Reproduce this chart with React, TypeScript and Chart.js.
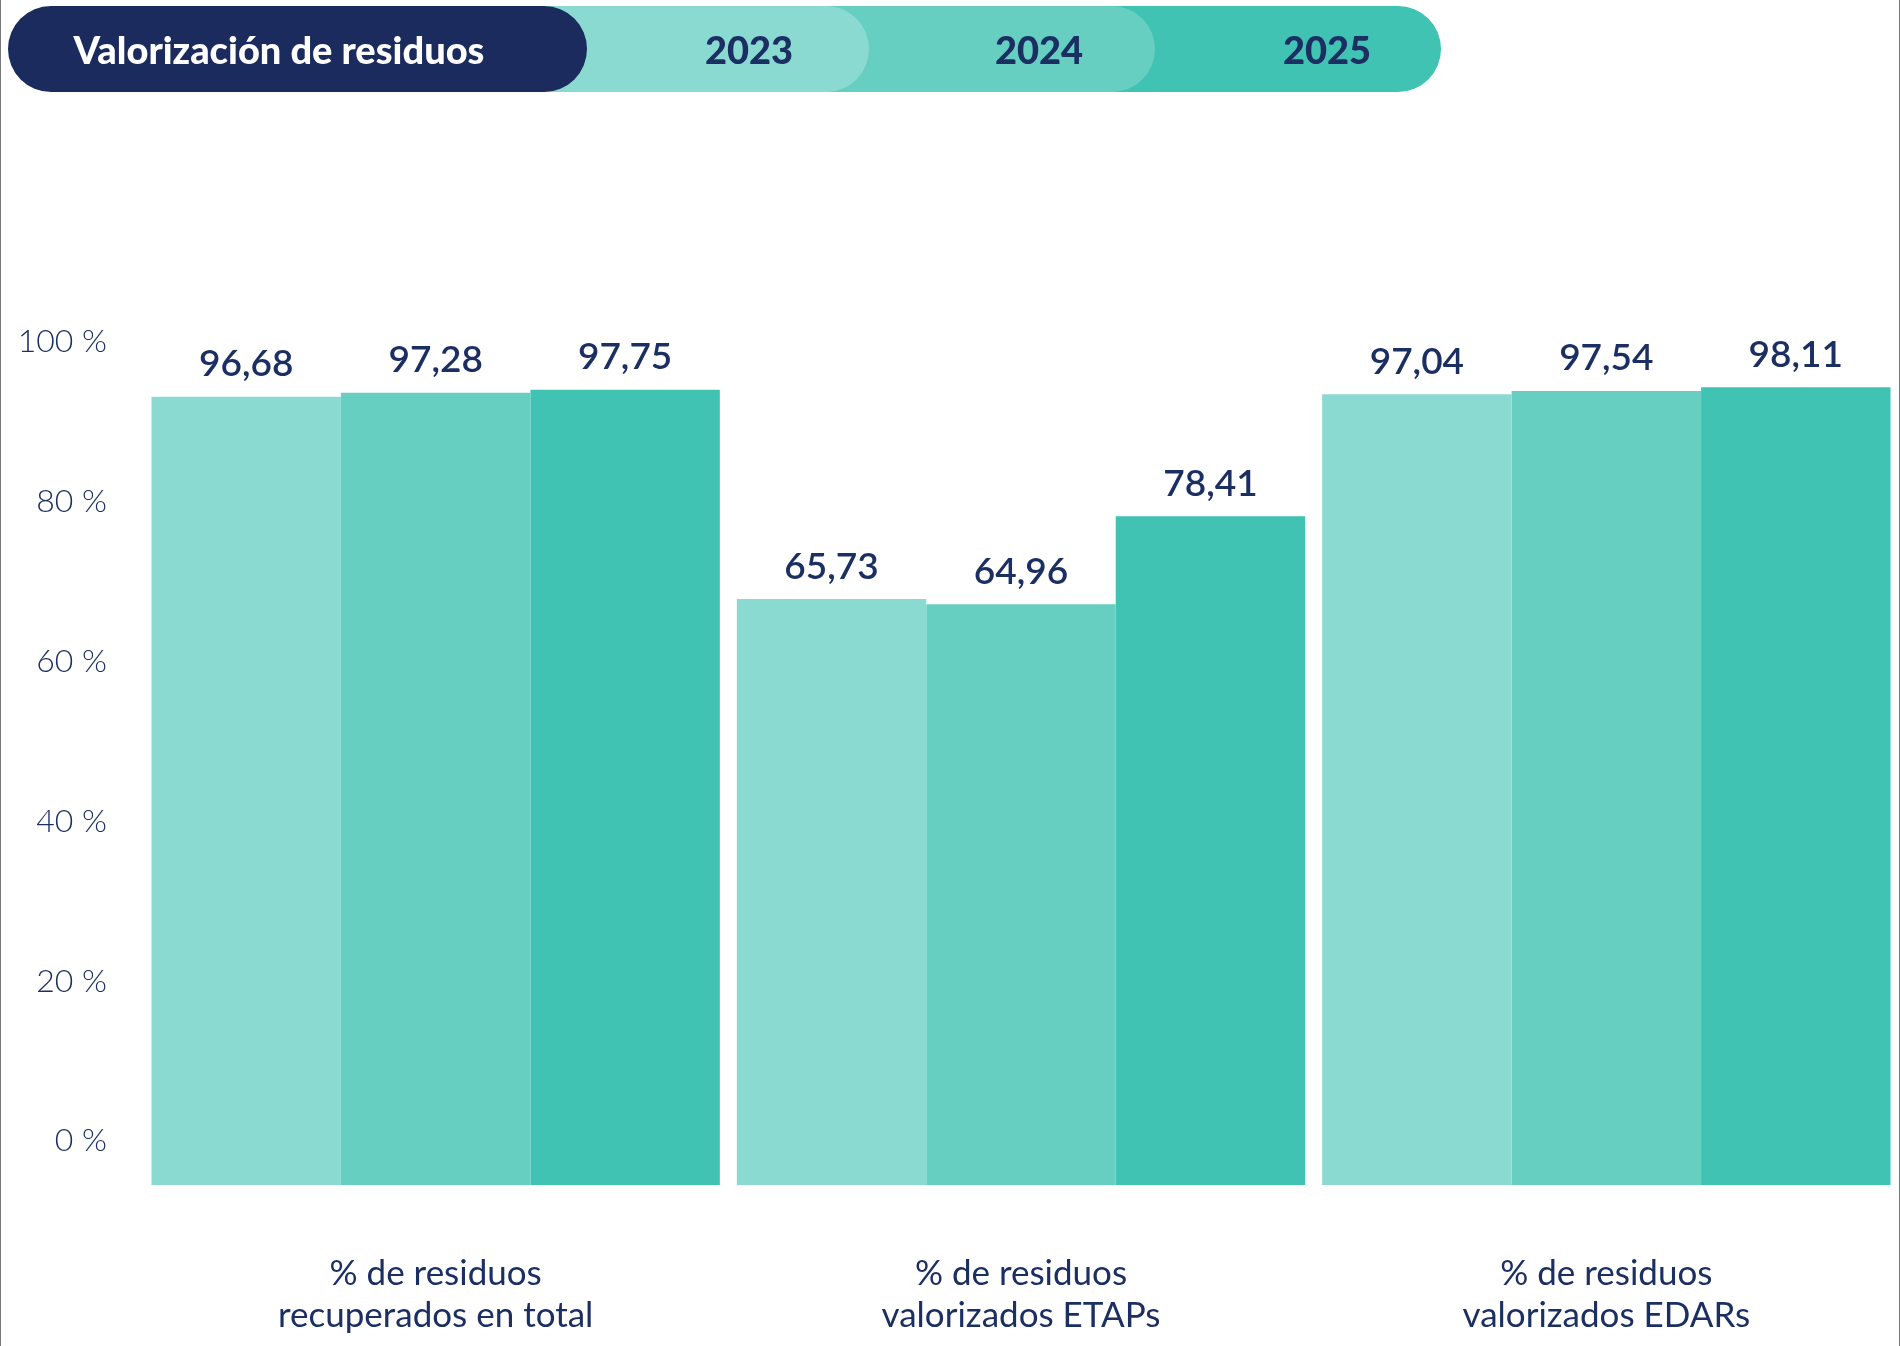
import React, { useEffect, useRef } from "react";
import { Chart, registerables } from "chart.js";
Chart.register(...registerables);

const categories = [["% de residuos", "recuperados en total"], ["% de residuos", "valorizados ETAPs"], ["% de residuos", "valorizados EDARs"]];
const years = ["2023", "2024", "2025"];
const v2023 = [96.68, 65.73, 97.04];
const v2024 = [97.28, 64.96, 97.54];
const v2025 = [97.75, 78.41, 98.11];
const colors = ["#8bdad1", "#66cfc2", "#41c3b4"];
const tickValues = [0, 20, 40, 60, 80, 100];
const NAVY = "#1b2f63";
const FONT = "Lato, 'Open Sans', sans-serif";
const BAR_MIN = -23.85;

export default function App() {
  const ref = useRef<HTMLCanvasElement>(null);
  useEffect(() => {
    document.body.style.margin = "0";
    const labelsPlugin = {
      id: "vals",
      afterDatasetsDraw(chart: any) {
        const ctx = chart.ctx;
        ctx.save();
        ctx.fillStyle = NAVY;
        ctx.font = `600 37px ${FONT}`;
        ctx.textAlign = "center";
        ctx.textBaseline = "bottom";
        chart.data.datasets.forEach((ds: any, i: number) => {
          chart.getDatasetMeta(i).data.forEach((bar: any, j: number) => {
            ctx.fillText(ds.data[j].toFixed(2).replace(".", ","), bar.x, bar.y - 14);
          });
        });
        ctx.restore();
      },
    };
    const chart = new Chart(ref.current!, {
      type: "bar",
      data: {
        labels: categories,
        datasets: years.map((y, i) => ({
          label: y,
          data: [v2023, v2024, v2025][i],
          backgroundColor: colors[i],
          yAxisID: "y",
          base: BAR_MIN,
          barPercentage: 1,
          categoryPercentage: 0.971,
        })),
      },
      options: {
        animation: false,
        responsive: false,
        layout: { padding: { top: 182, right: 0, bottom: 0, left: 0 } },
        plugins: { legend: { display: false }, tooltip: { enabled: false } },
        scales: {
          x: {
            grid: { display: false },
            border: { display: false },
            ticks: { color: NAVY, font: { size: 35, family: FONT }, padding: 60 },
            afterFit: (a: any) => { a.height = 161; },
          },
          y: { display: false, min: BAR_MIN, max: 129.5 },
          y2: {
            position: "left",
            min: -5.5,
            max: 120,
            grid: { display: false },
            border: { display: false },
            afterBuildTicks: (a: any) => { a.ticks = tickValues.map((v) => ({ value: v })); },
            afterFit: (a: any) => { a.width = 142; },
            ticks: {
              color: NAVY,
              padding: 28,
              font: { size: 32, family: FONT, weight: "300" as any },
              callback: (v: any) => `${v} %`,
            },
          },
        },
      },
      plugins: [labelsPlugin],
    });
    return () => chart.destroy();
  }, []);

  const pill = (left: number, width: number, bg: string, z: number, text: string, textCenter: number, textColor: string) => (
    <div style={{ position: "absolute", left, top: 6, width, height: 86, borderRadius: 43, background: bg, zIndex: z }}>
      <span style={{ position: "absolute", left: textCenter - left, top: 0, transform: "translateX(-50%)", lineHeight: "86px", fontFamily: FONT, fontWeight: 900, fontSize: 38, color: textColor, whiteSpace: "nowrap" }}>{text}</span>
    </div>
  );

  return (
    <div style={{ position: "relative", width: 1900, height: 1346, background: "#fff", boxSizing: "border-box", borderLeft: "1px solid #777", borderRight: "1px solid #777", overflow: "hidden" }}>
      {pill(870, 570, colors[2], 1, "2025", 1326, NAVY)}
      {pill(580, 574, colors[1], 2, "2024", 1038, NAVY)}
      {pill(440, 428, colors[0], 3, "2023", 748, NAVY)}
      {pill(7, 579, "#1c2b5e", 4, "Valorización de residuos", 278, "#fff")}
      <canvas ref={ref} width={1898} height={1346} style={{ position: "absolute", left: 0, top: 0 }} />
    </div>
  );
}
